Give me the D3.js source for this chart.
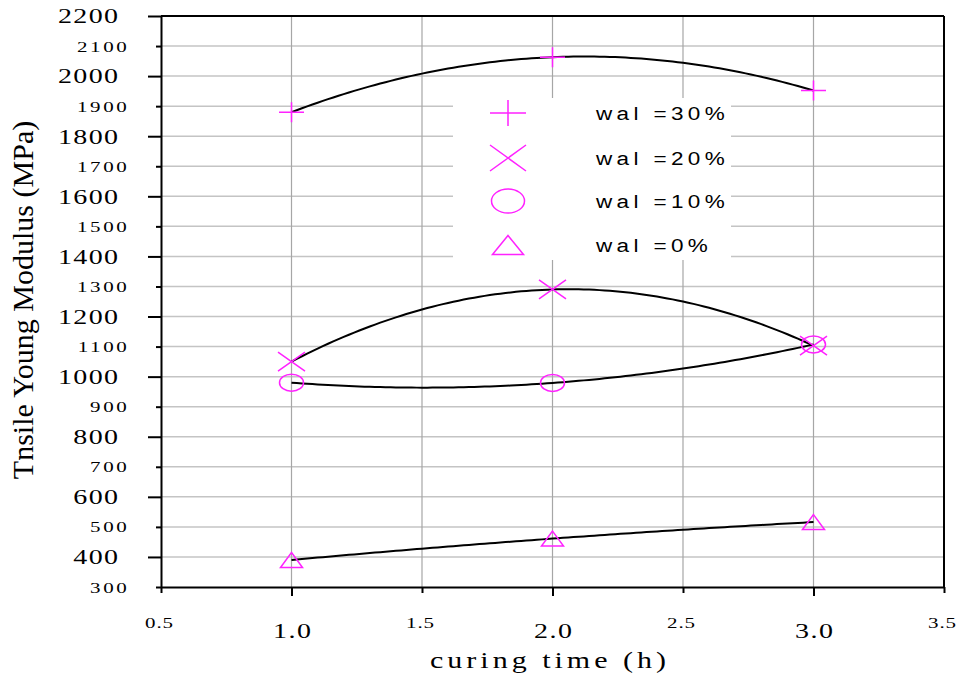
<!DOCTYPE html>
<html>
<head>
<meta charset="utf-8">
<script src="https://cdn.jsdelivr.net/npm/d3@7"></script>
<style>
  html, body { margin: 0; padding: 0; background: #fff; }
  svg { display: block; }
</style>
</head>
<body>
<svg id="chart" width="957" height="675"></svg>
<script>
// ---------------- data ----------------
const curingTime = [1.0, 2.0, 3.0];
const seriesNames = ["wal =30%", "wal =20%", "wal =10%", "wal =0%"];
const wal30 = [1880, 2063, 1952];
const wal20 = [1050, 1290, 1103];
const wal10 = [980, 979, 1107];
const wal0  = [390, 461, 516];
const markerTypes = ["plus", "cross", "circle", "triangle"];
const yTicks = [300, 400, 500, 600, 700, 800, 900, 1000, 1100, 1200, 1300, 1400, 1500, 1600, 1700, 1800, 1900, 2000, 2100, 2200];
const yTickLabels = yTicks.map(String);
const xTicks = [0.5, 1.0, 1.5, 2.0, 2.5, 3.0, 3.5];
const xTickLabels = ["0.5", "1.0", "1.5", "2.0", "2.5", "3.0", "3.5"];
const xTitle = "curing time (h)";
const yTitle = "Tnsile Young Modulus (MPa)";

// ---------------- layout ----------------
const L = 161, R = 944, T = 16, B = 587;
const MAG = "#ff22ff";
const SERIF = "'Liberation Serif', 'Times New Roman', serif";
const SANS = "'Liberation Sans', Arial, sans-serif";

const svg = d3.select("#chart");
const x = d3.scaleLinear().domain([0.5, 3.5]).range([L, R]);
const y = d3.scaleLinear().domain([300, 2200]).range([B, T]);

// grid
const grid = svg.append("g");
grid.selectAll("line.h").data(yTicks.slice(1, -1)).join("line")
  .attr("x1", L).attr("x2", R).attr("y1", d => y(d)).attr("y2", d => y(d))
  .attr("stroke", "#c4c4c4").attr("stroke-width", 1.5);
grid.selectAll("line.v").data(xTicks.slice(1, -1)).join("line")
  .attr("y1", T).attr("y2", B).attr("x1", d => x(d)).attr("x2", d => x(d))
  .attr("stroke", "#a6a6a6").attr("stroke-width", 1.2);

// frame (top and right)
svg.append("line").attr("x1", L).attr("x2", R).attr("y1", T).attr("y2", T).attr("stroke", "#000").attr("stroke-width", 2);
svg.append("line").attr("x1", R).attr("x2", R).attr("y1", T).attr("y2", B).attr("stroke", "#000").attr("stroke-width", 2);

// y axis
const gy = svg.append("g").attr("transform", `translate(${L},0)`)
  .call(d3.axisLeft(y).tickValues(yTicks).tickFormat((d, i) => yTickLabels[i]).tickSizeOuter(0));
gy.select(".domain").attr("stroke", "#000").attr("stroke-width", 2);
gy.selectAll(".tick line").attr("x2", d => (d % 200 === 0 ? -13 : -5)).attr("stroke", "#000").attr("stroke-width", 2);
gy.selectAll(".tick text").each(function (d) {
  const big = d % 200 === 0;
  const fs = big ? 20 : 15;
  const ls = big ? 1 : 1.9;
  const right = big ? 119.5 : 129.5;
  d3.select(this)
    .attr("x", 0).attr("dy", null).attr("y", 0)
    .attr("text-anchor", "end")
    .attr("transform", `translate(${right - L},${0.34 * fs}) scale(1.4,1)`)
    .attr("font-family", SERIF).attr("font-size", fs)
    .attr("letter-spacing", ls).attr("fill", "#000");
});

// x axis
const gx = svg.append("g").attr("transform", `translate(0,${B})`)
  .call(d3.axisBottom(x).tickValues(xTicks).tickFormat((d, i) => xTickLabels[i]).tickSizeOuter(0));
gx.select(".domain").attr("stroke", "#000").attr("stroke-width", 2);
gx.selectAll(".tick line").attr("y2", d => (Number.isInteger(d) ? 9 : 6)).attr("stroke", "#000").attr("stroke-width", 2);
gx.selectAll(".tick text").each(function (d) {
  const big = Number.isInteger(d);
  const fs = big ? 20 : 15;
  const ls = big ? 1.1 : 0.7;
  const dx = big ? 0 : -2.5;
  const base = big ? 638 : 628;
  d3.select(this)
    .attr("x", 0).attr("dy", null).attr("y", 0)
    .attr("text-anchor", "middle")
    .attr("transform", `translate(${dx + ls * 0.7},${base - B}) scale(1.4,1)`)
    .attr("font-family", SERIF).attr("font-size", fs)
    .attr("letter-spacing", ls).attr("fill", "#000");
});

// axis titles
svg.append("text")
  .attr("transform", `translate(550,667.5) scale(1.25,1)`)
  .attr("text-anchor", "middle")
  .attr("font-family", SERIF).attr("font-size", 24)
  .attr("letter-spacing", 3.2)
  .text(xTitle);
svg.append("text")
  .attr("transform", `translate(33,300) rotate(-90)`)
  .attr("text-anchor", "middle")
  .attr("font-family", SERIF).attr("font-size", 30)
  .text(yTitle);

// ---------------- markers ----------------
function marker(g, type, cx, cy, w, h) {
  const s = { stroke: MAG, "stroke-width": 1.5, fill: "none" };
  let el;
  if (type === "plus") {
    el = g.append("path").attr("d", `M${cx - w / 2},${cy}H${cx + w / 2}M${cx},${cy - h / 2}V${cy + h / 2}`);
  } else if (type === "cross") {
    el = g.append("path").attr("d", `M${cx - w / 2},${cy - h / 2}L${cx + w / 2},${cy + h / 2}M${cx - w / 2},${cy + h / 2}L${cx + w / 2},${cy - h / 2}`);
  } else if (type === "circle") {
    el = g.append("ellipse").attr("cx", cx).attr("cy", cy).attr("rx", w / 2).attr("ry", h / 2);
  } else {
    el = g.append("path").attr("d", `M${cx},${cy - h / 2}L${cx + w / 2},${cy + h / 2}L${cx - w / 2},${cy + h / 2}Z`);
  }
  Object.entries(s).forEach(([k, v]) => el.attr(k, v));
}

const allSeries = [wal30, wal20, wal10, wal0];
const plotSizes = { plus: [25, 20], cross: [27, 19], circle: [24, 17], triangle: [22, 15] };

// trend curves (2nd order polynomial trendline through the data)
function trend(xs, ys) {
  return t => {
    let s = 0;
    for (let i = 0; i < xs.length; i++) {
      let p = ys[i];
      for (let j = 0; j < xs.length; j++) if (j !== i) p *= (t - xs[j]) / (xs[i] - xs[j]);
      s += p;
    }
    return s;
  };
}
const line = d3.line().x(d => x(d[0])).y(d => y(d[1]));
const curves = svg.append("g");
allSeries.forEach(vals => {
  const f = trend(curingTime, vals);
  const pts = d3.range(0, 101).map(k => {
    const t = curingTime[0] + (curingTime[curingTime.length - 1] - curingTime[0]) * k / 100;
    return [t, f(t)];
  });
  curves.append("path").attr("d", line(pts)).attr("fill", "none").attr("stroke", "#000").attr("stroke-width", 2);
});

const mk = svg.append("g");
allSeries.forEach((vals, si) => {
  const type = markerTypes[si];
  const [w, h] = plotSizes[type];
  vals.forEach((v, i) => marker(mk, type, x(curingTime[i]), y(v), w, h));
});

// ---------------- legend ----------------
const leg = svg.append("g");
leg.append("rect").attr("x", 453).attr("y", 98).attr("width", 278).attr("height", 162).attr("fill", "#fff");
const legSizes = { plus: [36, 26], cross: [36, 26], circle: [33, 24], triangle: [31, 19] };
const legRows = [113, 158, 201, 245];
seriesNames.forEach((name, i) => {
  const type = markerTypes[i];
  const [w, h] = legSizes[type];
  marker(leg, type, 508, legRows[i], w, h);
  leg.append("text")
    .attr("transform", `translate(596,${legRows[i] + 6.5}) scale(1.25,1)`)
    .attr("font-family", SANS).attr("font-size", 18)
    .attr("letter-spacing", 3.5)
    .attr("fill", "#000")
    .text(name);
});
</script>
</body>
</html>
